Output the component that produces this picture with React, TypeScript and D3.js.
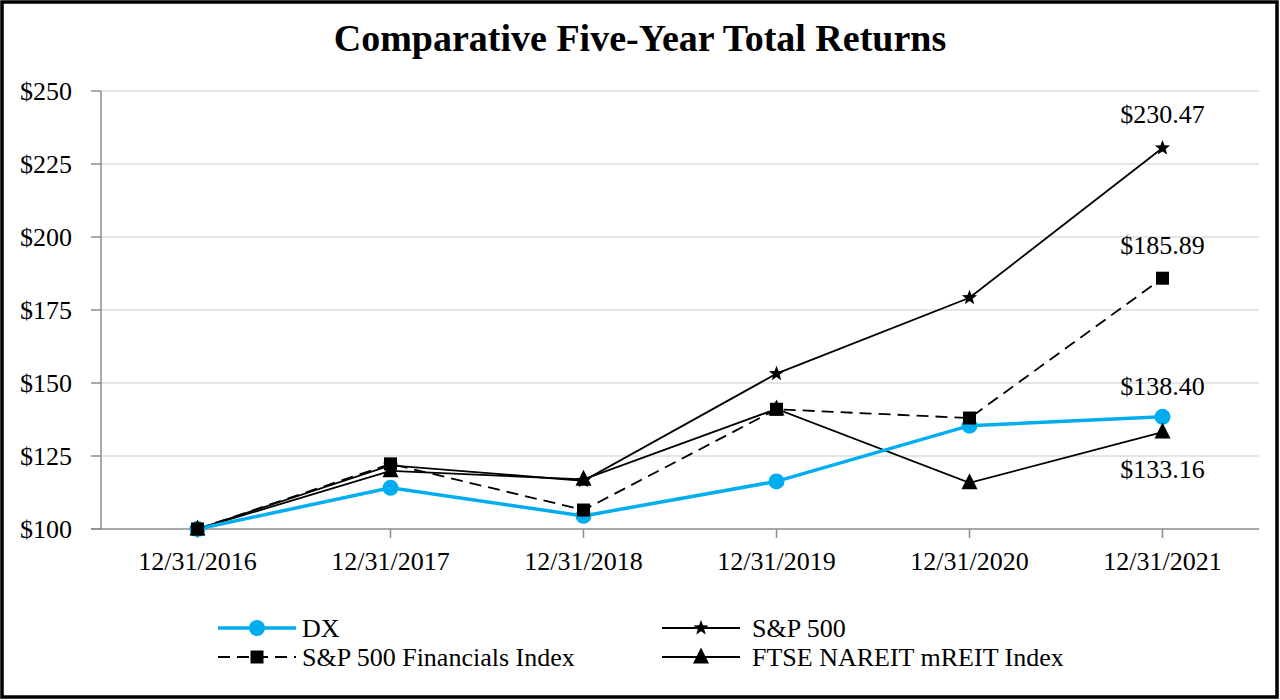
import * as d3 from 'd3';
import React, { useEffect } from 'react';

const years = ['12/31/2016', '12/31/2017', '12/31/2018', '12/31/2019', '12/31/2020', '12/31/2021'];
const dx = [100, 114.1, 104.5, 116.3, 135.4, 138.4];
const sp500 = [100, 121.8, 116.5, 153.2, 179.2, 230.47];
const financials = [100, 122.3, 106.5, 141.0, 138.0, 185.89];
const mreit = [100, 119.9, 117.0, 141.1, 115.8, 133.16];
const yTicks = [100, 125, 150, 175, 200, 225, 250];
const endLabels = ['$230.47', '$185.89', '$138.40', '$133.16'];

const width = 1280;
const height = 700;
const margin = { top: 91, right: 21, bottom: 171, left: 101 };
const blue = '#00aeef';
const font = '"Liberation Serif", "Times New Roman", serif';

const Star = ({ x, y, r }: { x: number; y: number; r: number }) => {
	const pts: string[] = [];
	for (let i = 0; i < 10; i++) {
		const a = -Math.PI / 2 + (i * Math.PI) / 5;
		const rr = i % 2 === 0 ? r : r * 0.42;
		pts.push(`${x + rr * Math.cos(a)},${y + rr * Math.sin(a)}`);
	}
	return <polygon points={pts.join(' ')} fill="black" />;
};

const Tri = ({ x, y, s }: { x: number; y: number; s: number }) => (
	<polygon points={`${x},${y - s * 0.6} ${x - s / 2},${y + s * 0.4} ${x + s / 2},${y + s * 0.4}`} fill="black" />
);

const App = () => {
	useEffect(() => {
		document.body.style.margin = '0';
	}, []);

	const x = d3
		.scalePoint<string>()
		.domain(years)
		.range([margin.left, width - margin.right])
		.padding(0.5);
	const y = d3
		.scaleLinear()
		.domain([100, 250])
		.range([height - margin.bottom, margin.top]);

	const line = d3
		.line<number>()
		.x((_, i) => x(years[i]) as number)
		.y(d => y(d));

	const last = years[years.length - 1];
	const lx = x(last) as number;

	return (
		<svg width={width} height={height} style={{ display: 'block', fontFamily: font }}>
			<rect x={2} y={2} width={width - 5} height={height - 5} fill="white" stroke="black" strokeWidth={3.5} />
			<text x={640} y={51} textAnchor="middle" fontSize={38} fontWeight="bold">
				Comparative Five-Year Total Returns
			</text>

			{yTicks.map(t => (
				<g key={t}>
					{t > 100 && (
						<line x1={margin.left} x2={width - margin.right} y1={y(t)} y2={y(t)} stroke="#dcdcdc" strokeWidth={1.5} />
					)}
					<line x1={margin.left - 10} x2={margin.left} y1={y(t)} y2={y(t)} stroke="#8c8c8c" strokeWidth={1.5} />
					<text x={72} y={y(t)} dy="0.35em" textAnchor="end" fontSize={26}>
						${t}
					</text>
				</g>
			))}
			<line x1={margin.left} x2={margin.left} y1={y(250)} y2={y(100)} stroke="#8c8c8c" strokeWidth={1.5} />
			<line x1={margin.left - 10} x2={width - margin.right} y1={y(100)} y2={y(100)} stroke="#8c8c8c" strokeWidth={1.5} />
			{years.map(yr => (
				<g key={yr}>
					<line x1={x(yr)} x2={x(yr)} y1={y(100)} y2={y(100) + 9} stroke="#8c8c8c" strokeWidth={1.5} />
					<text x={x(yr)} y={y(100) + 41} textAnchor="middle" fontSize={26}>
						{yr}
					</text>
				</g>
			))}

			<path d={line(mreit) || ''} fill="none" stroke="black" strokeWidth={1.8} />
			<path d={line(financials) || ''} fill="none" stroke="black" strokeWidth={1.8} strokeDasharray="12,7" />
			<path d={line(sp500) || ''} fill="none" stroke="black" strokeWidth={1.8} />
			<path d={line(dx) || ''} fill="none" stroke={blue} strokeWidth={3.5} />

			{dx.map((v, i) => (
				<circle key={'c' + i} cx={x(years[i])} cy={y(v)} r={8} fill={blue} />
			))}
			{mreit.map((v, i) => (
				<Tri key={'t' + i} x={x(years[i]) as number} y={y(v)} s={16} />
			))}
			{financials.map((v, i) => (
				<rect key={'s' + i} x={(x(years[i]) as number) - 6.5} y={y(v) - 6.5} width={13} height={13} fill="black" />
			))}
			{sp500.map((v, i) => (
				<Star key={'p' + i} x={x(years[i]) as number} y={y(v)} r={8} />
			))}

			<text x={lx} y={y(sp500[5]) - 25} textAnchor="middle" fontSize={26}>{endLabels[0]}</text>
			<text x={lx} y={y(financials[5]) - 24} textAnchor="middle" fontSize={26}>{endLabels[1]}</text>
			<text x={lx} y={y(dx[5]) - 22} textAnchor="middle" fontSize={26}>{endLabels[2]}</text>
			<text x={lx} y={y(mreit[5]) + 46} textAnchor="middle" fontSize={26}>{endLabels[3]}</text>

			<g fontSize={26}>
				<line x1={218} x2={296} y1={628} y2={628} stroke={blue} strokeWidth={3.5} />
				<circle cx={257} cy={628} r={8} fill={blue} />
				<text x={302} y={628} dy="0.35em">DX</text>

				<line x1={218} x2={296} y1={657} y2={657} stroke="black" strokeWidth={1.8} strokeDasharray="12,7" />
				<rect x={250.5} y={650.5} width={13} height={13} fill="black" />
				<text x={302} y={657} dy="0.35em">S&amp;P 500 Financials Index</text>

				<line x1={662} x2={740} y1={628} y2={628} stroke="black" strokeWidth={1.8} />
				<Star x={701} y={628} r={8} />
				<text x={752} y={628} dy="0.35em">S&amp;P 500</text>

				<line x1={662} x2={740} y1={657} y2={657} stroke="black" strokeWidth={1.8} />
				<Tri x={701} y={657} s={16} />
				<text x={752} y={657} dy="0.35em">FTSE NAREIT mREIT Index</text>
			</g>
		</svg>
	);
};

export default App;
